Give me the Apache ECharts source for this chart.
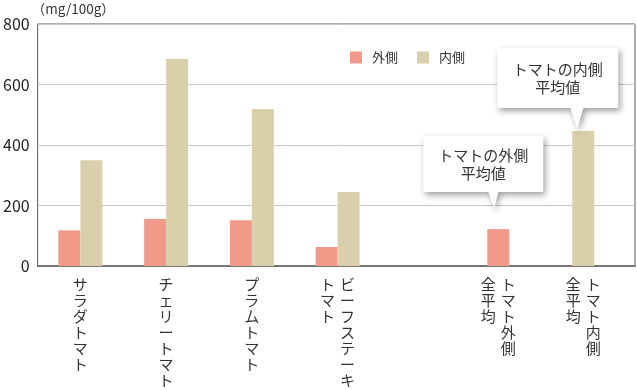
<!DOCTYPE html>
<html>
<head>
<meta charset="utf-8">
<script src="https://cdn.jsdelivr.net/npm/echarts@6/dist/echarts.min.js"></script>
<style>
html,body{margin:0;padding:0;background:#fff;}
#chart{width:637px;height:390px;}
</style>
</head>
<body>
<div id="chart"></div>
<script>
// ---- data ----
const categories = ['サラダトマト', 'チェリートマト', 'プラムトマト', 'ビーフステーキトマト'];
const outerValues = [118, 155, 151, 63];
const innerValues = [350, 684, 519, 245];
const avgCategories = ['トマト外側全平均', 'トマト内側全平均'];
const outerAvg = [122, '-'];
const innerAvg = ['-', 446];
const yTicks = [0, 200, 400, 600, 800];
// how each category label wraps into vertical columns (right column first)
const labelColumns = {
  'サラダトマト': ['サラダトマト'],
  'チェリートマト': ['チェリートマト'],
  'プラムトマト': ['プラムトマト'],
  'ビーフステーキトマト': ['ビーフステーキ', 'トマト'],
  'トマト外側全平均': ['トマト外側', '全平均'],
  'トマト内側全平均': ['トマト内側', '全平均']
};
const seriesNames = ['外側', '内側'];
const calloutTexts = ['トマトの外側\n平均値', 'トマトの内側\n平均値'];

// ---- styles ----
const FONT = '"Noto Sans CJK JP", "Noto Sans", sans-serif';
const OUTER_COLOR = '#F29A8A';
const INNER_COLOR = '#D9CFAA';
const TEXT_COLOR = '#333';

const chart = echarts.init(document.getElementById('chart'), null, {renderer: 'canvas'});

function stack(text, style) {
  return text.split('').map(ch => '{' + style + '|' + ch + '}').join('\n');
}
function rightCol(val) {
  const cols = labelColumns[val] || [val];
  return stack(cols[0], cols.length > 1 ? 'r' : 'c');
}
function leftCol(val) {
  const cols = labelColumns[val] || [val];
  return cols.length > 1 ? stack(cols[1], 'l') : '';
}
const richStyles = {
  c: {fontSize: 15, lineHeight: 16, color: TEXT_COLOR, fontFamily: FONT},
  r: {fontSize: 15, lineHeight: 16, color: TEXT_COLOR, fontFamily: FONT, padding: [0, 0, 0, 20]},
  l: {fontSize: 15, lineHeight: 16, color: TEXT_COLOR, fontFamily: FONT, padding: [0, 20, 0, 0]}
};
function catAxis(gridIndex, data, formatter) {
  return {
    type: 'category', gridIndex: gridIndex, data: data, position: 'bottom', offset: 0,
    axisLine: {show: false}, axisTick: {show: false}, splitLine: {show: false},
    axisLabel: {interval: 0, margin: 10, formatter: formatter, rich: richStyles, hideOverlap: false}
  };
}
const hiddenY = (gi) => ({type: 'value', gridIndex: gi, min: 0, max: 800, interval: 200, show: false});

const calloutShadow = {color: '#fff', shadowColor: 'rgba(0,0,0,0.38)', shadowBlur: 6, shadowOffsetX: 2, shadowOffsetY: 3};
function callout(path, size, offset, text, labelOffset) {
  return {
    symbol: 'path://' + path, symbolSize: size, symbolOffset: offset, symbolKeepAspect: false,
    itemStyle: calloutShadow, silent: true,
    label: {show: true, position: 'inside', formatter: text, offset: labelOffset,
      color: TEXT_COLOR, fontSize: 15, lineHeight: 18, fontFamily: FONT},
    data: [{type: 'max'}]
  };
}

const option = {
  animation: false,
  textStyle: {fontFamily: FONT},
  legend: {
    data: seriesNames, left: 350, top: 51, padding: 0, itemWidth: 12, itemHeight: 12, itemGap: 19,
    icon: 'rect',
    textStyle: {fontSize: 13, color: TEXT_COLOR, fontFamily: FONT, padding: [0, 0, 0, 5]}
  },
  grid: [
    {left: 36, right: 2, top: 24, bottom: 124, show: true, borderColor: '#5a5a5a', borderWidth: 1},
    {left: 37.5, width: 343, top: 24, bottom: 124},
    {left: 455.8, width: 170, top: 24, bottom: 124}
  ],
  xAxis: [
    {type: 'value', gridIndex: 0, min: 0, max: 1, axisLabel: {show: false}, axisTick: {show: false},
      splitLine: {show: false}, axisLine: {show: true, lineStyle: {color: '#777', width: 2}}},
    catAxis(1, categories, rightCol),
    catAxis(1, categories, leftCol),
    catAxis(2, avgCategories, rightCol),
    catAxis(2, avgCategories, leftCol)
  ],
  yAxis: [
    {type: 'value', gridIndex: 0, min: yTicks[0], max: yTicks[yTicks.length - 1], interval: 200,
      name: '（mg/100g）', nameLocation: 'end', nameGap: 14,
      nameTextStyle: {fontSize: 13.5, color: TEXT_COLOR, align: 'left', verticalAlign: 'middle', fontFamily: FONT, padding: [0, 0, 0, -6]},
      axisLine: {show: false}, axisTick: {show: false},
      axisLabel: {fontSize: 16, color: '#222', margin: 8, fontFamily: FONT},
      splitLine: {lineStyle: {color: '#c8c8c8', width: 1}}},
    hiddenY(1),
    hiddenY(2)
  ],
  series: [
    {name: seriesNames[0], type: 'bar', xAxisIndex: 1, yAxisIndex: 1, data: outerValues,
      barWidth: 22, barGap: '0%', itemStyle: {color: OUTER_COLOR}},
    {name: seriesNames[1], type: 'bar', xAxisIndex: 1, yAxisIndex: 1, data: innerValues,
      barWidth: 22, barGap: '0%', itemStyle: {color: INNER_COLOR}},
    {name: seriesNames[0], type: 'bar', xAxisIndex: 3, yAxisIndex: 2, data: outerAvg,
      barWidth: 22, barGap: '-100%', itemStyle: {color: OUTER_COLOR},
      markPoint: callout('M0 0 H120 V56 H75 L71 72 L65 56 H0 Z', [120, 72], [-15, -57], calloutTexts[0], [0, -8])},
    {name: seriesNames[1], type: 'bar', xAxisIndex: 3, yAxisIndex: 2, data: innerAvg,
      barWidth: 22, barGap: '-100%', itemStyle: {color: INNER_COLOR},
      markPoint: callout('M0 0 H121 V60 H86 L80 81 L73 60 H0 Z', [121, 81], [-25.5, -42.5], calloutTexts[1], [0, -10.5])}
  ]
};
chart.setOption(option);
</script>
</body>
</html>
